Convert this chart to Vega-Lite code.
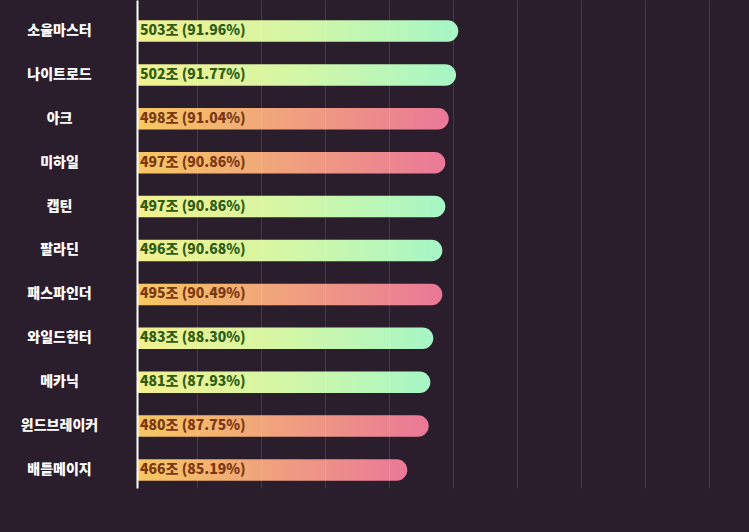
{
  "$schema": "https://vega.github.io/schema/vega-lite/v6.json",
  "autosize": {"type": "none"},
  "padding": {"left": 137, "top": 0, "right": 0, "bottom": 44},
  "width": 612,
  "height": 488,
  "background": "#2b1e2c",
  "config": {
    "view": {"stroke": null},
    "font": "Noto Sans CJK KR"
  },
  "data": {
    "values": [
      {"name": "소울마스터", "value": 503, "pct": 91.96, "bar": 91.96, "type": "green", "label": "503조 (91.96%)"},
      {"name": "나이트로드", "value": 502, "pct": 91.77, "bar": 91.66, "type": "green", "label": "502조 (91.77%)"},
      {"name": "아크", "value": 498, "pct": 91.04, "bar": 90.69, "type": "orange", "label": "498조 (91.04%)"},
      {"name": "미하일", "value": 497, "pct": 90.86, "bar": 90.24, "type": "orange", "label": "497조 (90.86%)"},
      {"name": "캡틴", "value": 497, "pct": 90.86, "bar": 90.24, "type": "green", "label": "497조 (90.86%)"},
      {"name": "팔라딘", "value": 496, "pct": 90.68, "bar": 89.84, "type": "green", "label": "496조 (90.68%)"},
      {"name": "패스파인더", "value": 495, "pct": 90.49, "bar": 89.84, "type": "orange", "label": "495조 (90.49%)"},
      {"name": "와일드헌터", "value": 483, "pct": 88.30, "bar": 88.64, "type": "green", "label": "483조 (88.30%)"},
      {"name": "메카닉", "value": 481, "pct": 87.93, "bar": 88.25, "type": "green", "label": "481조 (87.93%)"},
      {"name": "윈드브레이커", "value": 480, "pct": 87.75, "bar": 88.03, "type": "orange", "label": "480조 (87.75%)"},
      {"name": "배틀메이지", "value": 466, "pct": 85.19, "bar": 85.19, "type": "orange", "label": "466조 (85.19%)"}
    ]
  },
  "encoding": {
    "y": {
      "field": "name",
      "type": "nominal",
      "sort": ["소울마스터", "나이트로드", "아크", "미하일", "캡틴", "팔라딘", "패스파인더", "와일드헌터", "메카닉", "윈드브레이커", "배틀메이지"],
      "scale": {"paddingInner": 0.51, "paddingOuter": 0.313, "align": 0.736},
      "axis": {
        "title": null,
        "ticks": false,
        "labelAlign": "center",
        "labelPadding": 78,
        "labelColor": "#ffffff",
        "labelFont": "Noto Sans CJK KR",
        "labelFontWeight": 900,
        "labelFontSize": 14,
        "domainColor": "#ffffff",
        "domainWidth": 2,
        "grid": false,
        "zindex": 2
      }
    }
  },
  "layer": [
    {
      "transform": [{"filter": "datum.type === 'green'"}],
      "mark": {
        "type": "bar",
        "cornerRadiusTopRight": 10.75,
        "cornerRadiusBottomRight": 10.75,
        "color": {
          "gradient": "linear",
          "x1": 0, "x2": 1, "y1": 0, "y2": 0,
          "stops": [
            {"offset": 0, "color": "#f3f08e"},
            {"offset": 0.5, "color": "#d4f7a6"},
            {"offset": 1, "color": "#a6f6c6"}
          ]
        }
      },
      "encoding": {
        "x": {
          "field": "bar",
          "type": "quantitative",
          "scale": {"domain": [49.31, 130.55], "zero": false, "nice": false},
          "axis": {
            "title": null,
            "labels": false,
            "ticks": false,
            "domain": false,
            "grid": true,
            "values": [57.28, 65.78, 74.28, 82.78, 91.28, 99.78, 108.28, 116.78, 125.28],
            "gridColor": "#ffffff",
            "gridOpacity": 0.12,
            "gridWidth": 1,
            "zindex": 1
          }
        },
        "x2": {"datum": 49.31}
      }
    },
    {
      "transform": [{"filter": "datum.type === 'orange'"}],
      "mark": {
        "type": "bar",
        "cornerRadiusTopRight": 10.75,
        "cornerRadiusBottomRight": 10.75,
        "color": {
          "gradient": "linear",
          "x1": 0, "x2": 1, "y1": 0, "y2": 0,
          "stops": [
            {"offset": 0, "color": "#f7c862"},
            {"offset": 0.5, "color": "#f0a07e"},
            {"offset": 1, "color": "#ea7898"}
          ]
        }
      },
      "encoding": {
        "x": {"field": "bar", "type": "quantitative"},
        "x2": {"datum": 49.31}
      }
    },
    {
      "mark": {
        "type": "text",
        "align": "left",
        "baseline": "middle",
        "dx": 3,
        "font": "Noto Sans CJK KR",
        "fontWeight": 900,
        "fontSize": 14
      },
      "encoding": {
        "x": {"datum": 49.31, "type": "quantitative"},
        "text": {"field": "label"},
        "color": {
          "field": "type",
          "type": "nominal",
          "scale": {"domain": ["green", "orange"], "range": ["#2f5c14", "#7a3812"]},
          "legend": null
        }
      }
    }
  ]
}
